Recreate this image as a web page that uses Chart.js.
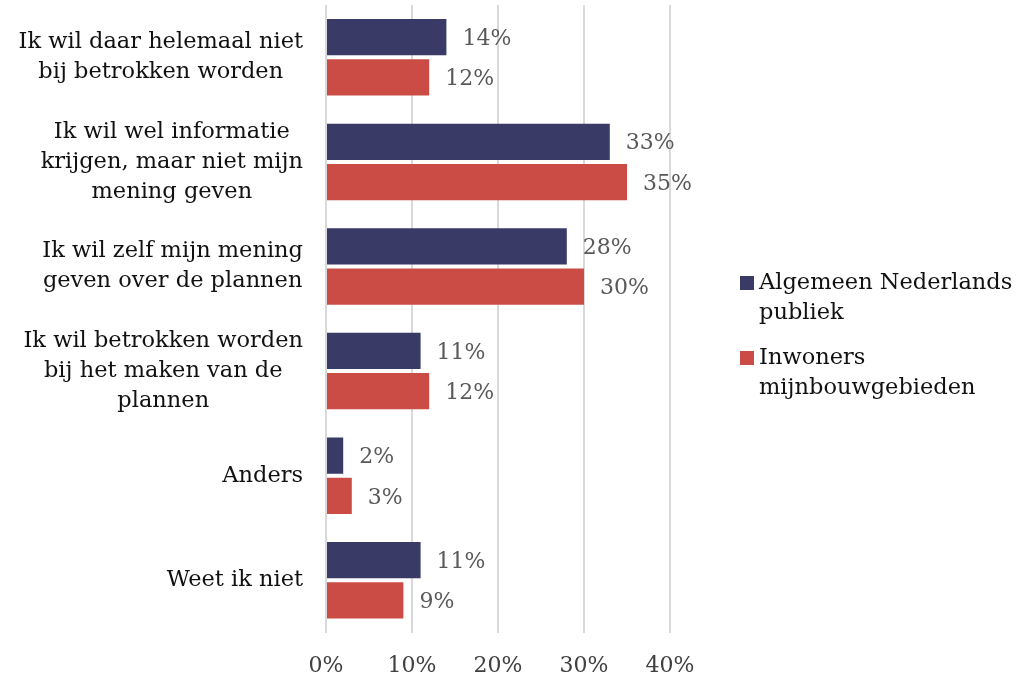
<!DOCTYPE html>
<html>
<head>
<meta charset="utf-8">
<script src="https://cdn.jsdelivr.net/npm/chart.js@4/dist/chart.umd.min.js"></script>
<style>
  html, body { margin: 0; padding: 0; background: #fff; overflow: hidden; }
  #wrap { width: 1022px; height: 673px; overflow: hidden; }
</style>
</head>
<body>
<div id="wrap"><canvas id="chart" width="1022" height="699"></canvas></div>
<script>
// Categories (one array of lines per category)
const categories = [
  ["Ik wil daar helemaal niet", "bij betrokken worden"],
  ["Ik wil wel informatie", "krijgen, maar niet mijn", "mening geven"],
  ["Ik wil zelf mijn mening", "geven over de plannen"],
  ["Ik wil betrokken worden", "bij het maken van de", "plannen"],
  ["Anders"],
  ["Weet ik niet"]
];
const seriesNames = [
  ["Algemeen Nederlands", "publiek"],
  ["Inwoners", "mijnbouwgebieden"]
];
const algemeen = [14, 33, 28, 11, 2, 11];
const inwoners = [12, 35, 30, 12, 3, 9];
const xTicks = [0, 10, 20, 30, 40];

const colors = ["#393b66", "#cb4c44"];
const FONT = "'DejaVu Serif', serif";

// Category labels: block right-aligned, lines centered inside the block
const categoryLabels = {
  id: "categoryLabels",
  afterDraw(chart) {
    const ctx = chart.ctx;
    const yScale = chart.scales.y;
    const right = chart.chartArea.left - 23;
    const lh = 30;
    ctx.save();
    ctx.font = "22.5px " + FONT;
    ctx.fillStyle = "#111";
    ctx.textAlign = "center";
    ctx.textBaseline = "middle";
    categories.forEach(function (lines, i) {
      const widest = Math.max.apply(null, lines.map(function (l) { return ctx.measureText(l).width; }));
      const cx = right - widest / 2;
      const cy = yScale.getPixelForTick(i);
      const top = cy - ((lines.length - 1) * lh) / 2;
      lines.forEach(function (l, j) {
        ctx.fillText(l, cx, top + j * lh);
      });
    });
    ctx.restore();
  }
};

// Value labels next to bar ends
const valueLabels = {
  id: "valueLabels",
  afterDatasetsDraw(chart) {
    const ctx = chart.ctx;
    ctx.save();
    ctx.font = "22px " + FONT;
    ctx.fillStyle = "#595959";
    ctx.textAlign = "left";
    ctx.textBaseline = "middle";
    chart.data.datasets.forEach(function (ds, d) {
      chart.getDatasetMeta(d).data.forEach(function (bar, i) {
        ctx.fillText(ds.data[i] + "%", bar.x + 16, bar.y + 2);
      });
    });
    ctx.restore();
  }
};

// Legend on the right with wrapped names
const sideLegend = {
  id: "sideLegend",
  afterDraw(chart) {
    const ctx = chart.ctx;
    const x = 740;
    const tops = [283, 358];
    ctx.save();
    ctx.font = "22.5px " + FONT;
    ctx.textAlign = "left";
    ctx.textBaseline = "middle";
    seriesNames.forEach(function (lines, s) {
      ctx.fillStyle = colors[s];
      ctx.fillRect(x, tops[s] - 7, 14, 14);
      ctx.fillStyle = "#111";
      lines.forEach(function (l, j) {
        ctx.fillText(l, x + 19, tops[s] + j * 30);
      });
    });
    ctx.restore();
  }
};

const ctx = document.getElementById("chart").getContext("2d");
const chart = new Chart(ctx, {
  type: "bar",
  data: {
    labels: categories,
    datasets: [
      {
        label: seriesNames[0].join(" "),
        data: algemeen,
        backgroundColor: colors[0],
        categoryPercentage: 0.77,
        barPercentage: 0.9,
      },
      {
        label: seriesNames[1].join(" "),
        data: inwoners,
        backgroundColor: colors[1],
        categoryPercentage: 0.77,
        barPercentage: 0.9,
      },
    ],
  },
  options: {
    indexAxis: "y",
    responsive: false,
    animation: false,
    layout: {
      padding: { top: 5, left: 326, right: 352, bottom: 0 },
    },
    scales: {
      x: {
        min: xTicks[0],
        max: xTicks[xTicks.length - 1],
        afterBuildTicks: function (axis) {
          axis.ticks = xTicks.map(function (v) { return { value: v }; });
        },
        grid: {
          color: "#d9d9d9",
          lineWidth: 2,
          drawTicks: false,
        },
        border: { display: false },
        ticks: {
          padding: 20,
          color: "#404040",
          font: { family: FONT, size: 22 },
          callback: function (value) {
            return value + "%";
          },
        },
      },
      y: {
        display: false,
      },
    },
    plugins: {
      legend: { display: false },
      tooltip: { enabled: false },
    },
  },
  plugins: [categoryLabels, valueLabels, sideLegend],
});
</script>
</body>
</html>
